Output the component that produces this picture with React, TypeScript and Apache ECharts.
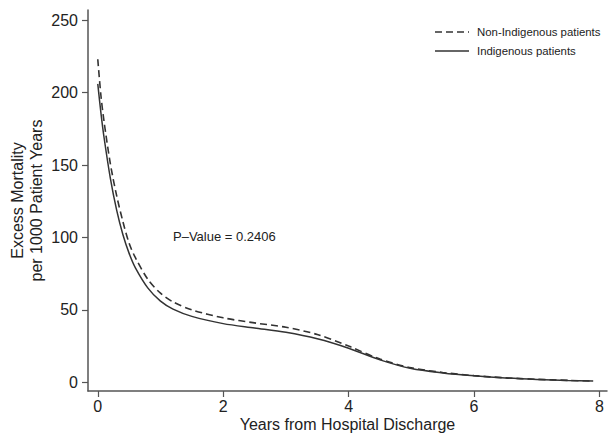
import React, { useEffect, useRef } from "react";
import * as echarts from "echarts";

const years = [0, 0.05, 0.1, 0.2, 0.3, 0.4, 0.5, 0.6, 0.8, 1.0, 1.2, 1.5, 2.0, 2.5, 3.0, 3.5, 4.0, 4.5, 5.0, 5.5, 6.0, 6.5, 7.0, 7.5, 7.9];
const indigenous = [206, 186, 169, 141, 119, 102, 89, 79, 65, 56, 50.5, 45.5, 40.5, 37.5, 34.5, 30, 23.5, 15.5, 9.5, 6.5, 4.5, 3, 2, 1.3, 0.9];
const nonIndigenous = [223, 198, 180, 151, 129, 111, 96, 86, 71, 61.5, 55.5, 50, 44.5, 41, 38, 33, 25, 16, 10, 6.8, 4.6, 3.1, 2.1, 1.3, 0.9];
const xTicks = [0, 2, 4, 6, 8];
const yTicks = [0, 50, 100, 150, 200, 250];
const seriesNames = ["Non-Indigenous patients", "Indigenous patients"];
const pValueText = "P–Value = 0.2406";

const FONT = "'Liberation Sans', Arial, sans-serif";
const AXIS_COLOR = "#555";
const TEXT_COLOR = "#222";
const LINE_COLOR = "#333";
const DASH = [7, 4];

export default function App() {
  const ref = useRef<HTMLDivElement>(null);
  useEffect(() => {
    if (!ref.current) return;
    const chart = echarts.init(ref.current, undefined, { renderer: "svg" });
    const pair = (vals: number[]) => years.map((t, i) => [t, vals[i]]);
    const legendY = [32, 51];
    const legendGraphics: any[] = [];
    seriesNames.forEach((name, i) => {
      legendGraphics.push({
        type: "line",
        shape: { x1: 435, y1: legendY[i], x2: 469, y2: legendY[i] },
        style: { stroke: LINE_COLOR, lineWidth: 1.5, lineDash: i === 0 ? DASH : null },
      });
      legendGraphics.push({
        type: "text",
        x: 477,
        y: legendY[i],
        style: { text: name, font: `11.4px ${FONT}`, fill: TEXT_COLOR, textVerticalAlign: "middle" },
      });
    });
    chart.setOption({
      animation: false,
      backgroundColor: "#fff",
      textStyle: { fontFamily: FONT },
      grid: { left: 88, right: 1, top: 10, bottom: 43, containLabel: false, outerBoundsMode: "none" },
      xAxis: {
        type: "value",
        min: -0.156,
        max: 8.12,
        name: "Years from Hospital Discharge",
        nameLocation: "middle",
        nameGap: 25,
        nameMoveOverlap: false,
        nameTextStyle: { fontFamily: FONT, fontSize: 16, lineHeight: 16, color: TEXT_COLOR },
        axisLine: { show: true, onZero: false, lineStyle: { color: AXIS_COLOR, width: 1.5 } },
        axisTick: { show: true, length: 6, customValues: xTicks, lineStyle: { color: AXIS_COLOR, width: 1.2 } },
        axisLabel: { customValues: xTicks, margin: 7, fontSize: 16, lineHeight: 16, color: TEXT_COLOR, fontFamily: FONT },
        splitLine: { show: false },
      },
      yAxis: {
        type: "value",
        min: -6,
        max: 257,
        name: "Excess Mortality\nper 1000 Patient Years",
        nameLocation: "middle",
        nameGap: 42,
        nameMoveOverlap: false,
        nameTextStyle: { fontFamily: FONT, fontSize: 16, color: TEXT_COLOR, lineHeight: 19, align: "center" },
        axisLine: { show: true, onZero: false, lineStyle: { color: AXIS_COLOR, width: 1.5 } },
        axisTick: { show: true, length: 6, customValues: yTicks, lineStyle: { color: AXIS_COLOR, width: 1.2 } },
        axisLabel: { customValues: yTicks, margin: 10, fontSize: 16, color: TEXT_COLOR, fontFamily: FONT },
        splitLine: { show: false },
      },
      graphic: [
        {
          type: "text",
          left: 173,
          top: 230,
          style: { text: pValueText, font: `13px ${FONT}`, fill: TEXT_COLOR },
        },
        ...legendGraphics,
      ],
      series: [
        {
          name: seriesNames[0],
          type: "line",
          data: pair(nonIndigenous),
          smooth: 0.3,
          symbol: "none",
          lineStyle: { color: LINE_COLOR, width: 1.6, type: DASH },
        },
        {
          name: seriesNames[1],
          type: "line",
          data: pair(indigenous),
          smooth: 0.3,
          symbol: "none",
          lineStyle: { color: LINE_COLOR, width: 1.5, type: "solid" },
        },
      ],
    });
    return () => chart.dispose();
  }, []);
  return <div ref={ref} style={{ width: 608, height: 434, position: "absolute", left: 0, top: 0 }} />;
}
